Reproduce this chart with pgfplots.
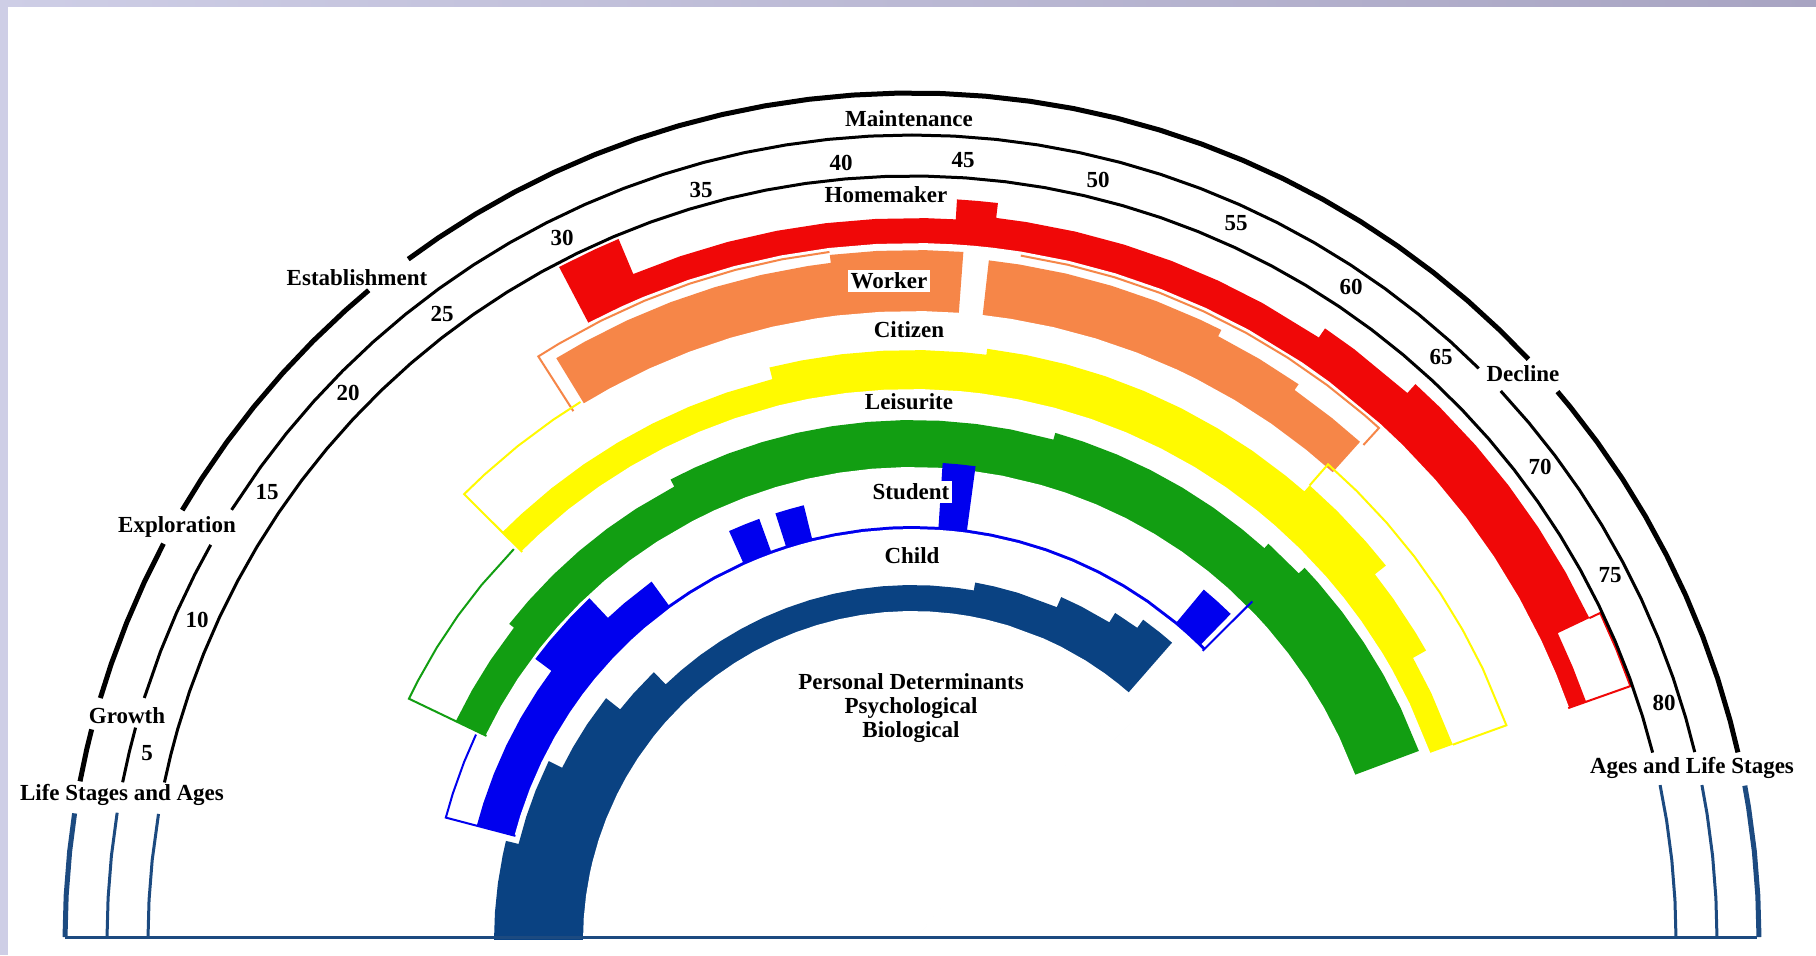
\documentclass[border=0pt]{standalone}
\usepackage{pgfplots}
\usepackage{pgfplotstable}
\pgfplotsset{compat=1.18}
\usepackage{fontspec}
\setmainfont{Liberation Serif}

\definecolor{hmred}{RGB}{240,8,8}
\definecolor{wkorange}{RGB}{246,134,72}
\definecolor{czyellow}{RGB}{255,250,0}
\definecolor{lsgreen}{RGB}{18,158,18}
\definecolor{stblue}{RGB}{0,0,238}
\definecolor{chnavy}{RGB}{10,66,130}
\definecolor{basenavy}{RGB}{28,74,128}
\definecolor{lavL}{RGB}{206,206,230}
\definecolor{lavR}{RGB}{168,164,194}

% role bands: a = age, ri / ro = inner / outer radius (px from the centre);
% first and last rows sit at the centre so that each table closes as a wedge
\pgfplotstableread{
a ri ro
29.5 0 0
29.5 696 760
31 696 760
32 696 760
32 696 722
34 696 722
36 696 722
38 696 722
40 696 722
42 696 722
44 696 722
45.2 696 722
45.2 696 742
46 696 742
46.8 696 742
46.8 696 727
48 696 727
50 696 727
52 696 727
54 696 727
56 696 727
58 696 727
60.6 696 727
60.6 696 738
62 696 738
64.7 696 738
64.7 696 750
66 696 750
68 696 750
70 696 750
72 696 750
74 696 750
76 696 750
76 696 715
77.5 696 715
79 696 715
79 0 0
}\tRed

\pgfplotstableread{
a ri ro
27.6 0 0
27.6 628 682
29 628 682
31 628 682
33 628 682
35 628 682
37 628 682
39 628 682
40 628 682
40 628 690
42 628 690
44 628 690
45.6 628 690
45.6 0 0
}\tOrA

\pgfplotstableread{
a ri ro
46.7 0 0
46.7 628 684
48 628 684
50 628 684
52 628 684
54 628 684
56 628 684
57 628 684
57 628 677
59 628 677
61 628 677
61 628 670
63 628 670
64.6 628 670
64.6 0 0
}\tOrB

\pgfplotstableread{
a ri ro
20.7 0 0
20.7 550 578
22 550 578
24 550 578
26 550 578
28 550 578
30 550 578
32 550 578
34 550 578
36.4 550 578
36.4 550 590
38 550 590
40 550 590
42 550 590
44 550 590
46 550 590
47.1 550 590
47.1 550 596
49 550 596
51 550 596
53 550 596
55 550 596
57 550 596
59 550 596
61 550 596
63 550 596
64.2 550 596
64.2 550 604
66 550 604
68 550 604
69.5 550 604
69.5 550 590
71 550 590
73 550 590
74 550 590
74 550 575
76 550 575
78.8 550 575
78.8 0 0
}\tYel

\pgfplotstableread{
a ri ro
11.0 0 0
11.0 472 506
13 472 506
15 472 506
17.3 472 506
17.3 472 512
19 472 512
21 472 512
23 472 512
25 472 512
27 472 512
29.5 472 512
29.5 472 520
31 472 520
33 472 520
35 472 520
37 472 520
39 472 520
41 472 520
43 472 520
45 472 520
47 472 520
49 472 520
51.4 472 520
51.4 472 527
53 472 527
55 472 527
57 472 527
59 472 527
61 472 527
63 472 527
64.6 472 527
64.6 472 533
66.9 472 533
66.9 472 541
68 472 541
70 472 541
72 472 541
74 472 541
76 472 541
78.5 472 541
78.5 0 0
}\tGrn

\pgfplotstableread{
a ri ro
5.5 0 0
5.5 410 450
7 410 450
9 410 450
11 410 450
13 410 450
15 410 450
16.6 410 450
16.6 410 470
18 410 470
20 410 470
21.6 410 470
21.6 410 443
23 410 443
25.3 410 443
25.3 410 414
27 410 414
29 410 414
31.3 410 414
31.3 410 448
32.4 410 448
33.4 410 448
33.4 410 414
34.5 410 414
34.5 410 448
35.5 410 448
36.4 410 448
36.4 410 414
38 410 414
40 410 414
42 410 414
43.5 410 414
45.3 410 414
45.3 410 478
46.3 410 478
47.3 410 478
47.3 410 414
49 410 414
51 410 414
53 410 414
55 410 414
57 410 414
59 410 414
61 410 414
63.5 410 414
63.5 410 456
64.6 410 456
65.8 410 456
65.8 410 414
66.2 410 414
66.2 0 0
}\tStu

\pgfplotstableread{
a ri ro
-1.9 0 0
-1.9 328 418
0 328 418
2 328 418
4 328 418
5 328 418
5 328 405
7 328 405
9 328 405
11.3 328 405
11.3 328 390
13 328 390
15 328 390
17.4 328 390
17.4 328 372
19 328 372
21.3 328 372
21.3 328 355
23 328 355
25 328 355
27 328 355
29 328 355
31 328 355
33 328 355
35 328 355
37 328 355
39 328 355
41 328 355
43 328 355
45 328 355
47 328 355
48.5 328 355
48.5 328 363
50 328 363
52 328 363
55.3 328 363
55.3 328 374
57 328 374
59.5 328 374
59.5 328 385
61.5 328 385
61.5 328 395
63 328 395
64.2 328 395
64.2 0 0
}\tChi

% age -> angle: 176.2 - 1.984*age degrees
\newcommand\bx[1]{\thisrow{#1}*cos(176.2-1.984*\thisrow{a})}
\newcommand\by[1]{\thisrow{#1}*sin(176.2-1.984*\thisrow{a})}
% a band = wedge out to ro in its colour, then a white wedge out to ri
\newcommand\band[2]{%
  \addplot[fill=#2, draw=none] table[x expr=\bx{ro}, y expr=\by{ro}] {#1} --cycle;
  \addplot[fill=white, draw=white, line width=1pt] table[x expr=\bx{ri}, y expr=\by{ri}] {#1} --cycle;
}
% outline: rows of age, radius
\newcommand\outl[2]{%
  \addplot[#1, line width=1pt, line join=miter] table[row sep=\\, x expr=\bx{r}, y expr=\by{r}] {a r\\ #2\\};
}
% frame ring: radius, style, list of angles
\newcommand\ring[3]{%
  \addplot[#2] table[row sep=\\, header=false,
    x expr={#1*cos(\thisrowno{0})}, y expr={#1*sin(\thisrowno{0})}] {#3\\};
}
\newcommand\lab{\fontsize{11.5}{12}\selectfont\bfseries}

\begin{document}
\begin{tikzpicture}
\begin{axis}[hide axis, scale only axis, width=908pt, height=477.5pt,
  xmin=-912, xmax=904, ymin=-15, ymax=940, clip=false]

% background and frame strips
\addplot[fill=white, draw=none] coordinates {(-912,-15) (904,-15) (904,940) (-912,940)} --cycle;
\addplot[draw=none, left color=lavL, right color=lavR] coordinates {(-912,933) (904,933) (904,940) (-912,940)} --cycle;
\addplot[fill=lavL, draw=none] coordinates {(-912,-15) (-904,-15) (-904,940) (-912,940)} --cycle;

% role bands, outermost first
\band{\tRed}{hmred}
\band{\tOrA}{wkorange}
\band{\tOrB}{wkorange}
\band{\tYel}{czyellow}
\band{\tGrn}{lsgreen}
\band{\tStu}{stblue}
\band{\tChi}{chnavy}

% open (outlined) parts of the roles
\outl{hmred}{76 750\\ 76 762\\ 77.5 762\\ 79 762\\ 79 696}
\outl{wkorange}{40 693\\ 38 693\\ 36 693\\ 34 693\\ 32 693\\ 30 693\\ 28 693\\ 27.0 693\\ 27.0 628}
\outl{wkorange}{48 693\\ 50 693\\ 52 693\\ 54 693\\ 56 693\\ 58 693\\ 60 693\\ 62 693\\ 64 693\\ 64.8 693\\ 64.8 670}
\outl{czyellow}{27.5 632\\ 26 632\\ 24 632\\ 22 632\\ 20.7 632\\ 20.7 550}
\outl{czyellow}{64.2 604\\ 64.2 632\\ 66 632\\ 68 632\\ 70 632\\ 72 632\\ 74 632\\ 76 632\\ 78.8 632\\ 78.8 575}
\outl{lsgreen}{20.5 558\\ 18 558\\ 16 558\\ 14 558\\ 12 558\\ 11.0 558\\ 11.0 472}
\outl{stblue}{10.8 482\\ 9 482\\ 7 482\\ 5.5 482\\ 5.5 410}
\outl{stblue}{66.2 410\\ 66.2 480}

% life-stage rings
\ring{847}{basenavy, line width=2.5pt}{0.2\\3\\6\\9\\10.5}
\ring{847}{black, line width=2.5pt}{12.8\\15\\18\\21\\24\\27\\30\\33\\36\\39\\40.35}
\ring{847}{black, line width=2.5pt}{43.3\\46\\49\\52\\55\\58\\61\\64\\67\\70\\73\\76\\79\\82\\85\\88\\91\\94\\97\\100\\103\\106\\109\\112\\115\\118\\121\\124\\126.5}
\ring{847}{black, line width=2.5pt}{129.9\\132\\135\\138\\141\\144\\147\\149.5}
\ring{847}{black, line width=2.5pt}{152.1\\155\\158\\161\\163.4}
\ring{847}{black, line width=2.5pt}{165.6\\167\\169.2}
\ring{847}{basenavy, line width=2.5pt}{171.4\\174\\177\\179.8}

\ring{805}{basenavy, line width=1.5pt}{0.2\\3\\6\\9\\11.1}
\ring{805}{black, line width=1.5pt}{13.5\\16\\19\\22\\25\\28\\31\\34\\37\\40\\43.0}
\ring{805}{black, line width=1.5pt}{45.25\\48\\51\\54\\57\\60\\63\\66\\69\\72\\75\\78\\81\\84\\87\\90\\93\\96\\99\\102\\105\\108\\111\\114\\117\\120\\123\\126\\129\\132\\135\\138\\141\\144\\147.7}
\ring{805}{black, line width=1.5pt}{150.6\\153\\156\\159\\162.5}
\ring{805}{black, line width=1.5pt}{164.7\\166.5\\168.7}
\ring{805}{basenavy, line width=1.5pt}{170.9\\174\\177\\179.8}

\ring{764}{basenavy, line width=1.5pt}{0.2\\3\\6\\9\\11.7}
\ring{764}{black, line width=1.5pt}{14.2\\17\\20\\23\\26\\29\\32\\35\\38\\41\\44\\47\\50\\53\\56\\59\\62\\65\\68\\71\\74\\77\\80\\83\\86\\89\\92\\95\\98\\101\\104\\107\\110\\113\\116\\119\\122\\125\\128\\131\\134\\137\\140\\143\\146\\149\\152\\155\\158\\161\\164\\166\\168.1}
\ring{764}{basenavy, line width=1.5pt}{170.5\\174\\177\\179.8}

% base line
\addplot[basenavy, line width=1.5pt] coordinates {(-847,3) (845,3)};

% labels
\node[font=\lab] at (axis cs:-3,821) {Maintenance};
\node[font=\lab] at (axis cs:-555,662) {Establishment};
\node[font=\lab] at (axis cs:-735,413) {Exploration};
\node[font=\lab] at (axis cs:-785,224) {Growth};
\node[font=\lab] at (axis cs:-790,145) {Life Stages and Ages};
\node[font=\lab] at (axis cs:611,566) {Decline};
\node[font=\lab] at (axis cs:780,172) {Ages and Life Stages};
\node[font=\lab] at (axis cs:-26,745) {Homemaker};
\node[font=\lab, fill=white, inner sep=1.5pt] at (axis cs:-23,659) {Worker};
\node[font=\lab] at (axis cs:-3,610) {Citizen};
\node[font=\lab] at (axis cs:-3,538) {Leisurite};
\node[font=\lab, fill=white, inner sep=1.5pt] at (axis cs:-1,448) {Student};
\node[font=\lab] at (axis cs:0,384) {Child};
\node[font=\lab, align=center] at (axis cs:-1,232) {Personal Determinants\\Psychological\\Biological};

% ages
\node[font=\lab] at (axis cs:-765,187) {5};
\node[font=\lab] at (axis cs:-715,320) {10};
\node[font=\lab] at (axis cs:-645,448) {15};
\node[font=\lab] at (axis cs:-564,547) {20};
\node[font=\lab] at (axis cs:-470,626) {25};
\node[font=\lab] at (axis cs:-350,702) {30};
\node[font=\lab] at (axis cs:-211,750) {35};
\node[font=\lab] at (axis cs:-71,777) {40};
\node[font=\lab] at (axis cs:51,780) {45};
\node[font=\lab] at (axis cs:186,760) {50};
\node[font=\lab] at (axis cs:324,717) {55};
\node[font=\lab] at (axis cs:439,653) {60};
\node[font=\lab] at (axis cs:529,583) {65};
\node[font=\lab] at (axis cs:628,473) {70};
\node[font=\lab] at (axis cs:698,365) {75};
\node[font=\lab] at (axis cs:752,237) {80};
\end{axis}
\end{tikzpicture}
\end{document}
